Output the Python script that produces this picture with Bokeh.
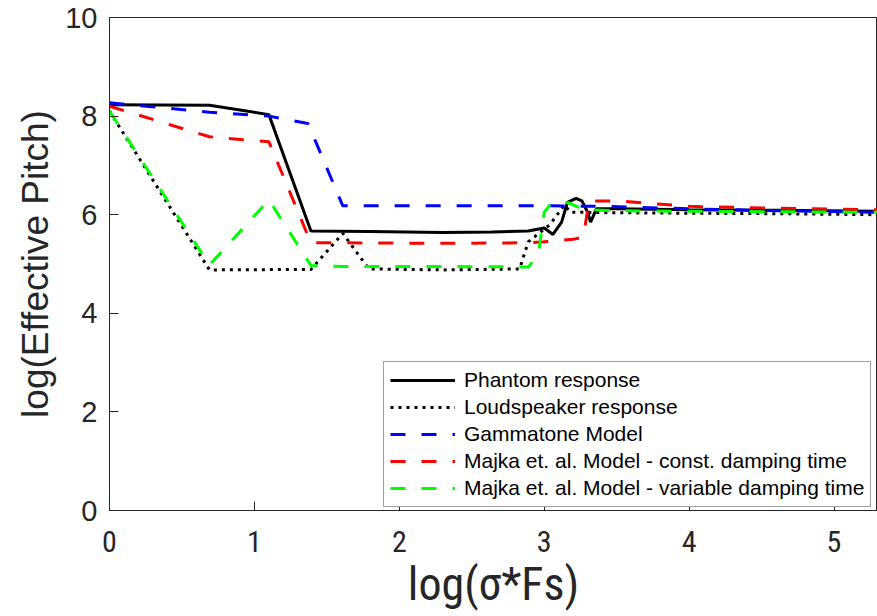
from bokeh.plotting import figure
from bokeh.models import Range1d, FixedTicker
from bokeh.embed import file_html
from bokeh.resources import INLINE

# ---- data (x = log(sigma*Fs), y = log(Effective Pitch)) ----
x_phantom = [0.0, 0.69, 1.10, 1.39, 1.79, 2.30, 2.64, 2.89, 3.00, 3.06, 3.12, 3.16, 3.22, 3.26, 3.30, 3.32, 3.36, 3.50, 4.00, 4.61, 5.30]
y_phantom = [8.23, 8.22, 8.03, 5.67, 5.66, 5.64, 5.65, 5.67, 5.73, 5.60, 5.85, 6.25, 6.33, 6.28, 6.05, 5.85, 6.12, 6.12, 6.10, 6.09, 6.07]

x_speaker = [0.0, 0.69, 1.39, 1.61, 1.79, 2.30, 2.83, 2.89, 3.04, 3.14, 3.18, 3.50, 4.00, 4.61, 5.30]
y_speaker = [8.10, 4.88, 4.89, 5.62, 4.90, 4.88, 4.90, 5.45, 5.80, 6.20, 6.05, 6.04, 6.03, 6.02, 6.00]

x_gamma = [0.0, 0.69, 1.10, 1.37, 1.61, 2.30, 3.00, 3.40, 4.00, 4.61, 5.30]
y_gamma = [8.27, 8.08, 8.00, 7.85, 6.18, 6.18, 6.18, 6.17, 6.12, 6.08, 6.05]

x_const = [0.0, 0.69, 1.10, 1.39, 1.61, 2.30, 2.89, 3.00, 3.20, 3.27, 3.31, 3.50, 4.00, 4.61, 5.30]
y_const = [8.20, 7.58, 7.48, 5.43, 5.43, 5.42, 5.43, 5.45, 5.50, 5.55, 6.28, 6.28, 6.17, 6.13, 6.10]

x_var = [0.0, 0.69, 1.10, 1.39, 1.61, 2.30, 2.89, 2.96, 3.00, 3.05, 3.17, 3.27, 3.50, 4.00, 4.61, 5.30]
y_var = [8.10, 4.98, 6.30, 4.97, 4.95, 4.95, 4.94, 5.20, 6.05, 6.24, 6.24, 6.10, 6.08, 6.07, 6.06, 6.05]

x_ticks = [0, 1, 2, 3, 4, 5]
y_ticks = [0, 2, 4, 6, 8, 10]

labels = ["Phantom response", "Loudspeaker response", "Gammatone Model",
          "Majka et. al. Model - const. damping time",
          "Majka et. al. Model - variable damping time"]

AX = "#262626"
NARROW = "'Liberation Sans Narrow', 'Roboto Condensed', 'Liberation Sans', Arial, sans-serif"
SANS = "'Liberation Sans', Arial, sans-serif"

p = figure(width=877, height=616, output_backend="svg", toolbar_location=None,
           x_range=Range1d(0, 5.30), y_range=Range1d(0, 10),
           min_border_left=109, min_border_right=0, min_border_top=17, min_border_bottom=106)
p.xgrid.visible = False
p.ygrid.visible = False
p.outline_line_color = AX
p.outline_line_width = 1
p.background_fill_color = "white"
p.border_fill_color = "white"

p.xaxis.ticker = FixedTicker(ticks=x_ticks)
p.yaxis.ticker = FixedTicker(ticks=y_ticks)
for ax in (p.xaxis[0], p.yaxis[0]):
    ax.axis_line_color = AX
    ax.major_tick_line_color = AX
    ax.major_tick_in = 9
    ax.major_tick_out = 0
    ax.minor_tick_line_color = None
    ax.major_label_text_color = AX
    ax.axis_label_text_color = AX
    ax.axis_label_text_font_style = "normal"

p.xaxis.major_label_text_font = NARROW
p.xaxis.major_label_text_font_size = "30px"
p.xaxis.major_label_standoff = 20
p.xaxis.axis_label = "log(σ*Fs)"
p.xaxis.axis_label_text_font = NARROW
p.xaxis.axis_label_text_font_size = "46px"
p.xaxis.axis_label_standoff = 2

p.yaxis.major_label_text_font = SANS
p.yaxis.major_label_text_font_size = "29px"
p.yaxis.major_label_standoff = 12
p.yaxis.axis_label = "log(Effective Pitch)"
p.yaxis.axis_label_text_font = SANS
p.yaxis.axis_label_text_font_size = "37px"
p.yaxis.axis_label_standoff = 6

p.line(x_phantom, y_phantom, line_color="black", line_width=3, legend_label=labels[0])
p.line(x_speaker, y_speaker, line_color="black", line_width=3, line_dash="3 5", legend_label=labels[1])
p.line(x_gamma, y_gamma, line_color="#0000FF", line_width=3, line_dash="15 16", legend_label=labels[2])
p.line(x_const, y_const, line_color="#FF0000", line_width=3, line_dash="15 16", legend_label=labels[3])
p.line(x_var, y_var, line_color="#00FF00", line_width=3, line_dash="15 16", legend_label=labels[4])

lg = p.legend[0]
lg.location = (274, 3)
lg.label_text_font = SANS
lg.label_text_font_size = "21px"
lg.label_text_color = "black"
lg.glyph_width = 65
lg.glyph_height = 20
lg.label_height = 20
lg.label_standoff = 9
lg.spacing = 3
lg.padding = 6
lg.margin = 0
lg.border_line_color = "#404040"
lg.border_line_width = 1
lg.background_fill_alpha = 1

open("out.html", "w").write(file_html(p, INLINE))
